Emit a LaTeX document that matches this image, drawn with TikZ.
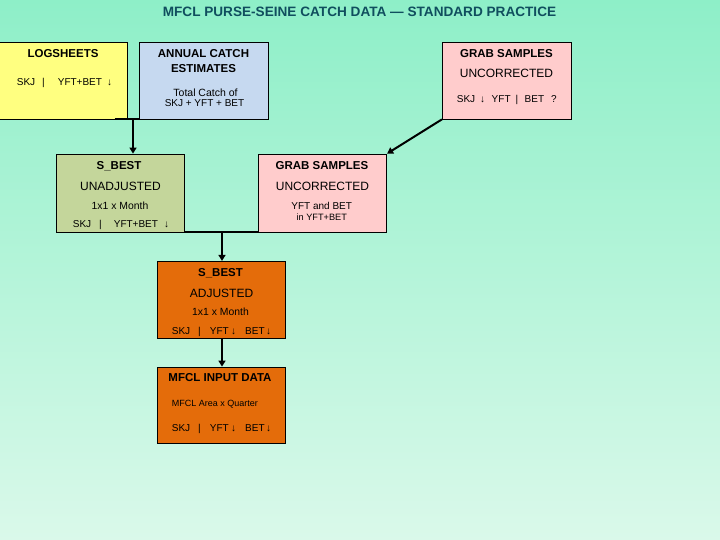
\documentclass[tikz,border=0pt]{standalone}
\usepackage{fontspec}
\setmainfont{Liberation Sans}
\usetikzlibrary{arrows.meta}
\definecolor{bgtop}{RGB}{142,239,200}
\definecolor{bgbot}{RGB}{218,249,234}
\definecolor{titlecol}{RGB}{16,78,94}
\definecolor{yellowbox}{RGB}{255,255,128}
\definecolor{bluebox}{RGB}{198,217,240}
\definecolor{pinkbox}{RGB}{255,204,204}
\definecolor{olivebox}{RGB}{196,214,155}
\definecolor{orangebox}{RGB}{228,108,10}
\newcommand{\gp}[1]{\hspace*{#1pt}}
\begin{document}
\begin{tikzpicture}[x=1pt,y=-1pt,
  box/.style={draw=black,line width=0.8pt,rectangle,inner sep=0pt},
  hd/.style={inner sep=0pt,anchor=base,font=\fontsize{11.5}{13}\selectfont\bfseries},
  mid/.style={inner sep=0pt,anchor=base,font=\fontsize{12}{14}\selectfont},
  sm/.style={inner sep=0pt,anchor=base,font=\fontsize{10}{12}\selectfont},
  smw/.style={inner sep=0pt,anchor=base west,font=\fontsize{10}{12}\selectfont},
  conn/.style={line width=2pt,black},
  arr/.style={conn,-{Triangle[length=6pt,width=7pt]}}]
\useasboundingbox (0,0) rectangle (720,540);
\shade[top color=bgtop,bottom color=bgbot] (0,0) rectangle (720,540);
% title
\node[inner sep=0pt,anchor=base,font=\fontsize{13.6}{15}\selectfont\bfseries,text=titlecol] (title) at (359.5,16.7) {MFCL PURSE-SEINE CATCH DATA — STANDARD PRACTICE};
% boxes
\node[box,fill=yellowbox,minimum width=129.3pt,minimum height=76.7pt] (log) at (62.65,80.65) {};
\node[box,fill=bluebox,minimum width=129.3pt,minimum height=76.7pt] (ann) at (203.65,80.65) {};
\node[box,fill=pinkbox,minimum width=129pt,minimum height=76.7pt] (gs1) at (506.8,80.65) {};
\node[box,fill=olivebox,minimum width=128.3pt,minimum height=78pt] (sbu) at (120.15,193) {};
\node[box,fill=pinkbox,minimum width=128.4pt,minimum height=78pt] (gs2) at (322.5,193) {};
\node[box,fill=orangebox,minimum width=128.4pt,minimum height=77pt] (sba) at (221.5,299.8) {};
\node[box,fill=orangebox,minimum width=128.4pt,minimum height=76pt] (mfcl) at (221.5,405) {};
% texts: logsheets
\node[hd] (logt) at (63,57.6) {LOGSHEETS};
\node[smw] (logr) at (16.7,86) {SKJ\gp{7}|\gp{13}YFT+BET\gp{5}↓};
% annual
\node[hd] (annt1) at (203.5,58) {ANNUAL CATCH};
\node[hd] (annt2) at (203.5,72.4) {ESTIMATES};
\node[sm,font=\fontsize{10.5}{12}\selectfont] (annr1) at (205.5,96.2) {Total Catch of};
\node[sm] (annr2) at (204.5,107) {SKJ + YFT + BET};
% grab 1
\node[hd] (gs1t) at (506.5,57.6) {GRAB SAMPLES};
\node[mid] (gs1m) at (506.5,77.8) {UNCORRECTED};
\node[smw] (gs1r) at (456.7,102.5) {SKJ\gp{5}↓\gp{6.5}YFT\gp{5}|\gp{6.5}BET\gp{7}?};
% s_best unadjusted
\node[hd] (sbut) at (119,170) {S\_BEST};
\node[mid] (sbum) at (120.5,190.3) {UNADJUSTED};
\node[sm,font=\fontsize{10.4}{12}\selectfont] (sbus) at (120,209.2) {1x1 x Month};
\node[smw] (sbur) at (72.7,227) {SKJ\gp{8}|\gp{12}YFT+BET\gp{6}↓};
% grab 2
\node[hd] (gs2t) at (322,170) {GRAB SAMPLES};
\node[mid] (gs2m) at (322.5,190.3) {UNCORRECTED};
\node[sm] (gs2s1) at (321.7,209.2) {YFT and BET};
\node[sm,font=\fontsize{9.2}{11}\selectfont] (gs2s2) at (321.8,221) {in YFT+BET};
% s_best adjusted
\node[hd] (sbat) at (220.5,276.8) {S\_BEST};
\node[mid] (sbam) at (221.5,297) {ADJUSTED};
\node[sm,font=\fontsize{10.4}{12}\selectfont] (sbas) at (220.5,315.8) {1x1 x Month};
\node[smw] (sbar) at (171.7,334) {SKJ\gp{8}|\gp{9}YFT\gp{2.5}↓\gp{9}BET\gp{1.5}↓};
% mfcl input
\node[hd] (mfclt) at (220,381.5) {MFCL INPUT DATA};
\node[smw,font=\fontsize{9}{10}\selectfont] (mfcls) at (171.7,406.2) {MFCL Area x Quarter};
\node[smw] (mfclr) at (171.7,431) {SKJ\gp{8}|\gp{9}YFT\gp{2.5}↓\gp{9}BET\gp{1.5}↓};
% connectors
\coordinate (j1) at (133,120);
\draw[conn] ([xshift=-13pt]log.south east) -- (ann.south west);
\draw[arr] (j1) -- (j1 |- sbu.north);
\coordinate (j2) at (222,232);
\draw[conn] (sbu.south east) -- (gs2.south west);
\draw[arr] (j2) -- (j2 |- sba.north);
\draw[arr] (gs1.south west) -- (gs2.north east);
\draw[arr] ([xshift=0.5pt]sba.south) -- ([xshift=0.5pt]mfcl.north);
\end{tikzpicture}
\end{document}
